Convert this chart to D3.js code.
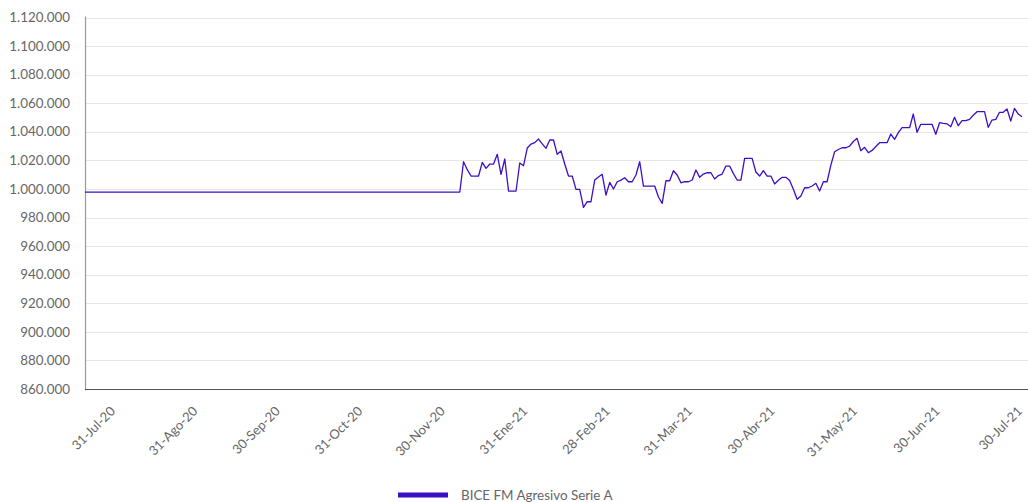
<!DOCTYPE html>
<html>
<head>
<meta charset="utf-8">
<script src="https://cdnjs.cloudflare.com/ajax/libs/d3/7.8.5/d3.min.js"></script>
<style>
  html, body { margin: 0; padding: 0; background: #ffffff; }
  svg { display: block; }
  text { font-family: Lato, "Open Sans", sans-serif; }
</style>
</head>
<body>
<div id="chart"></div>
<script>
// ---- data ----
const seriesName = "BICE FM Agresivo Serie A";

const values = [
  997850, 997850, 997850, 997850, 997850, 997850, 997850, 997850, 997850, 997850,
  997850, 997850, 997850, 997850, 997850, 997850, 997850, 997850, 997850, 997850,
  997850, 997850, 997850, 997850, 997850, 997850, 997850, 997850, 997850, 997850,
  997850, 997850, 997850, 997850, 997850, 997850, 997850, 997850, 997850, 997850,
  997850, 997850, 997850, 997850, 997850, 997850, 997850, 997850, 997850, 997850,
  997850, 997850, 997850, 997850, 997850, 997850, 997850, 997850, 997850, 997850,
  997850, 997850, 997850, 997850, 997850, 997850, 997850, 997850, 997850, 997850,
  997850, 997850, 997850, 997850, 997850, 997850, 997850, 997850, 997850, 997850,
  997850, 997850, 997850, 997850, 997850, 997850, 997850, 997850, 997850, 997850,
  997850, 997850, 997850, 997850, 997850, 997850, 997850, 997850, 997850, 997850,
  997850,
  1019060, 1013500, 1009050, 1009050, 1009050, 1018640, 1014440, 1017450, 1017450, 1024240,
  1010240, 1020950, 998550, 998550, 998550, 1018150, 1016260, 1028650, 1031450, 1032430,
  1034950, 1031520, 1028440, 1034250, 1034250, 1024240, 1026550, 1017450, 1009050, 1009050,
  999740, 999740, 987140, 991060, 991060, 1006250, 1008350, 1010240, 995750, 1004640,
  999950, 1005060, 1006180, 1007860, 1005060, 1005060, 1009750, 1019060, 1002050, 1002050,
  1002050, 1002050, 994350, 989940, 1005760, 1005760, 1012760, 1009750, 1004300, 1005060,
  1005060, 1006250, 1013250, 1008140, 1010450, 1011360, 1011360, 1006950, 1009400, 1010450,
  1016050, 1016050, 1010730, 1006250, 1006250, 1021440, 1021440, 1021440, 1011850, 1009050,
  1012760, 1009050, 1009050, 1003450, 1006110, 1008140, 1008140, 1005970, 999740, 992740,
  995050, 1000860, 1000860, 1002050, 1003940, 998550, 1005060, 1005060, 1016680, 1026060,
  1027600, 1028860, 1028860, 1029980, 1033200, 1035440, 1026760, 1029140, 1025360, 1026970,
  1029700, 1032360, 1032360, 1032360, 1038450, 1034740, 1039430, 1042860, 1042860, 1042860,
  1052450, 1039640, 1045240, 1045240, 1045240, 1045240, 1038240, 1046360, 1045940, 1045590,
  1043560, 1050140, 1044260, 1047760, 1047760, 1048740, 1051540, 1054060, 1054060, 1054060,
  1043140, 1048250, 1048740, 1053640, 1053640, 1055950, 1047550, 1056440, 1052450, 1050560
];

const xTickLabels = ["31-Jul-20", "31-Ago-20", "30-Sep-20", "31-Oct-20", "30-Nov-20", "31-Ene-21",
                     "28-Feb-21", "31-Mar-21", "30-Abr-21", "31-May-21", "30-Jun-21", "30-Jul-21"];
const xTickIndex = [8, 30, 52, 74, 96, 118, 140, 162, 184, 206, 228, 250];

const yTicks = [860000, 880000, 900000, 920000, 940000, 960000, 980000,
                1000000, 1020000, 1040000, 1060000, 1080000, 1100000, 1120000];

(function () {
  // ---- layout ----
  const W = 1028, H = 502;
  const plotLeft = 85, plotRight = 1022, plotTop = 17.5, plotBottom = 389;
  const lineColor = "#3b0fc6";

  const svg = d3.select("#chart").append("svg")
    .attr("width", W).attr("height", H);

  const x = d3.scaleLinear().domain([0, values.length - 1]).range([plotLeft, plotRight]);
  const y = d3.scaleLinear().domain([860000, 1120000]).range([plotBottom, plotTop]);

  const loc = d3.formatLocale({ decimal: ",", thousands: ".", grouping: [3], currency: ["$", ""] });
  const fmt = loc.format(",.0f");

  // grid
  svg.append("g").selectAll("line").data(yTicks.filter(d => d !== 860000)).join("line")
    .attr("x1", plotLeft + 1).attr("x2", W)
    .attr("y1", d => Math.round(y(d)) + 0.5).attr("y2", d => Math.round(y(d)) + 0.5)
    .attr("stroke", "#e6e6e6").attr("stroke-width", 1);

  // y labels
  svg.append("g").selectAll("text").data(yTicks).join("text")
    .attr("x", 70).attr("y", d => y(d)).attr("dy", "0.35em")
    .attr("text-anchor", "end")
    .attr("font-size", 13.4).attr("fill", "#666")
    .text(d => fmt(d));

  // axis lines
  svg.append("line")
    .attr("x1", plotLeft + 0.5).attr("x2", plotLeft + 0.5)
    .attr("y1", plotTop - 1).attr("y2", plotBottom + 1.5)
    .attr("stroke", "#999").attr("stroke-width", 1.2);
  svg.append("line")
    .attr("x1", plotLeft).attr("x2", W)
    .attr("y1", Math.round(plotBottom) + 0.5).attr("y2", Math.round(plotBottom) + 0.5)
    .attr("stroke", "#555").attr("stroke-width", 1);

  // x labels
  svg.append("g").selectAll("text").data(xTickIndex).join("text")
    .attr("transform", d => `translate(${x(d) + 1},${plotBottom + 23}) rotate(-45)`)
    .attr("text-anchor", "end")
    .attr("font-size", 13).attr("fill", "#666")
    .text((d, i) => xTickLabels[i]);

  // line
  const line = d3.line().x((d, i) => x(i)).y(d => y(d));
  svg.append("path").datum(values)
    .attr("d", line)
    .attr("fill", "none")
    .attr("stroke", lineColor)
    .attr("stroke-width", 1.3)
    .attr("stroke-linejoin", "round");

  // legend
  svg.append("rect")
    .attr("x", 398).attr("y", 492.5).attr("width", 50).attr("height", 5)
    .attr("fill", lineColor);
  svg.append("text")
    .attr("x", 461).attr("y", 495).attr("dy", "0.35em")
    .attr("font-size", 13.4).attr("fill", "#666")
    .text(seriesName);
})();
</script>
</body>
</html>
